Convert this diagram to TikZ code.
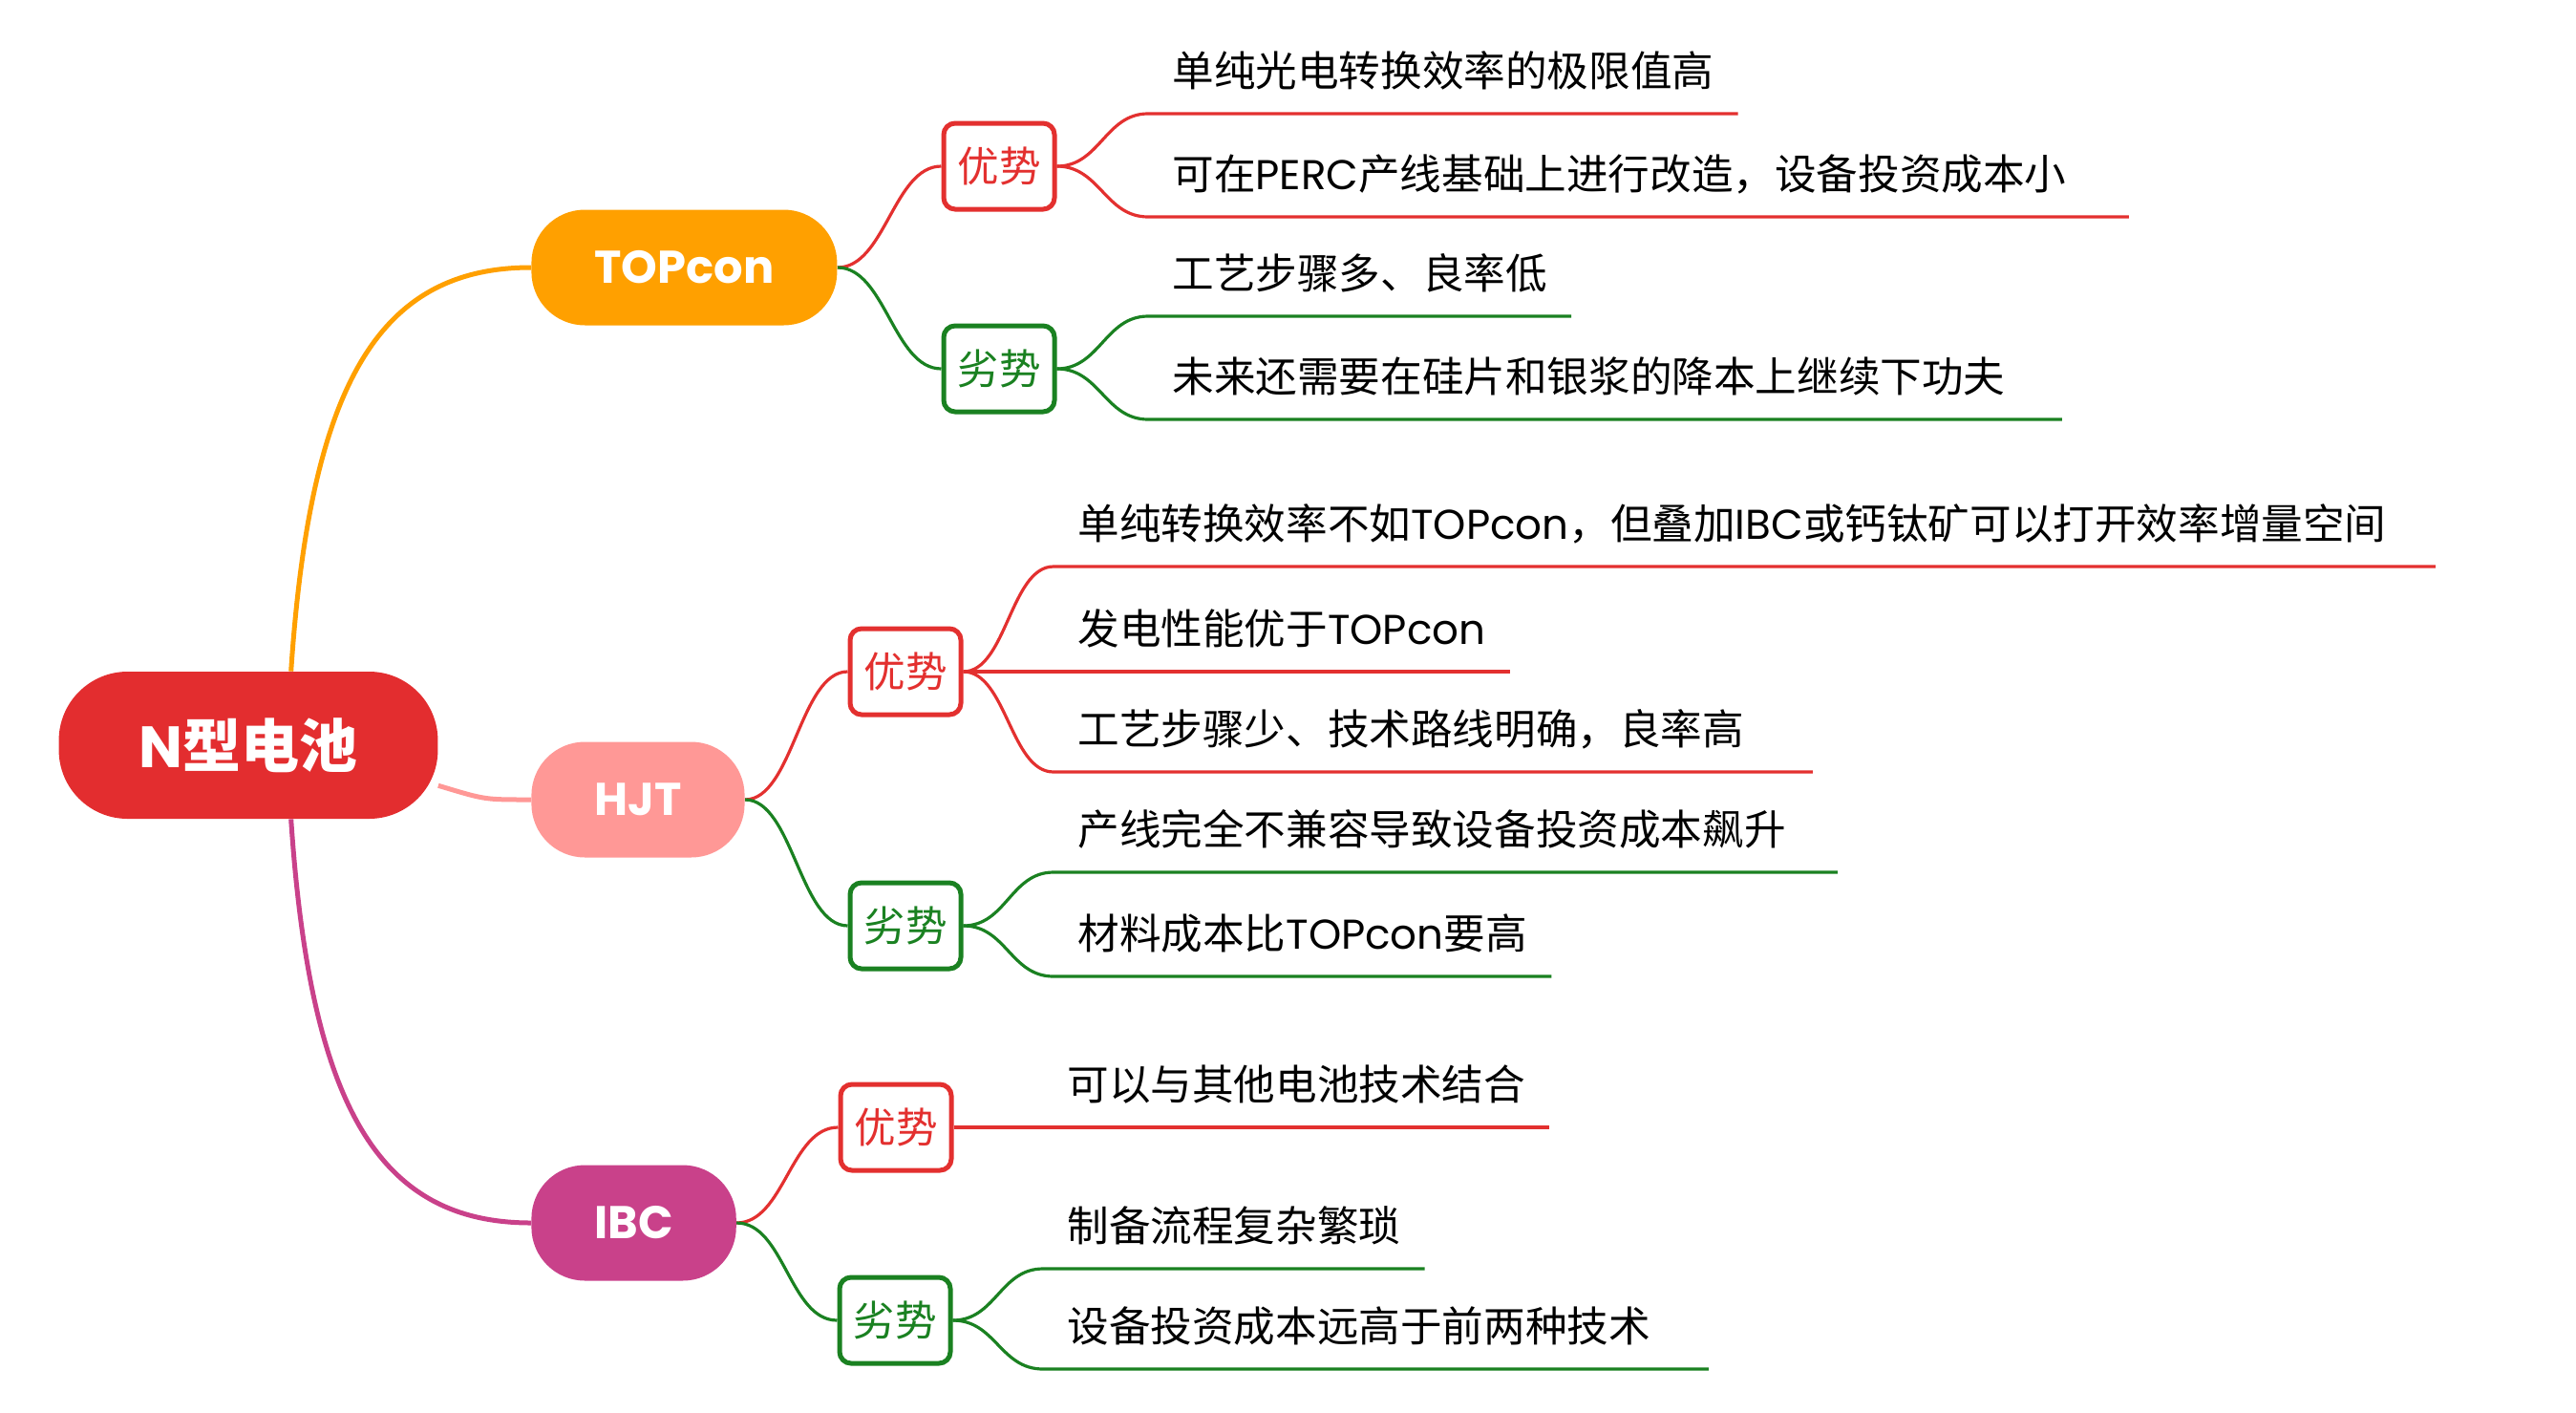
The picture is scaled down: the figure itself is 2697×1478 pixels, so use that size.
\documentclass[tikz,border=0pt]{standalone}
\usepackage{fontspec}
\newfontfamily\cjk{Noto Sans CJK SC}
\newfontfamily\lat{Poppins}
\usetikzlibrary{backgrounds}
\definecolor{rootred}{HTML}{E32D2F}
\definecolor{topconorange}{HTML}{FFA000}
\definecolor{hjtpink}{HTML}{FF9896}
\definecolor{ibcmagenta}{HTML}{C9418A}
\definecolor{prored}{HTML}{E3302F}
\definecolor{congreen}{HTML}{1A8121}
\begin{document}
\begin{tikzpicture}[x=0.5pt,y=-0.5pt,
	root/.style={fill=rootred,text=white,rounded corners=36pt,inner xsep=42pt,minimum height=77pt,font=\cjk\bfseries\fontsize{30.5}{36}\selectfont},
	topic/.style={anchor=west,text=white,rounded corners=28pt,inner xsep=33pt,minimum height=60.5pt,font=\lat\bfseries\fontsize{24}{30}\selectfont},
	procon/.style={draw,fill=white,line width=2.5pt,rounded corners=6pt,minimum width=58pt,minimum height=45pt,inner sep=0pt,font=\cjk\fontsize{21.8}{26}\selectfont},
	good/.style={procon,draw=prored,text=prored},
	bad/.style={procon,draw=congreen,text=congreen},
	leaf/.style={anchor=south west,inner xsep=12.5pt,inner ysep=14pt,text depth=0pt,font=\cjk\fontsize{21.8}{26}\selectfont},
	wide/.style={text width=#1,align=left},
	trunk/.style={line width=2.5pt},
	twig/.style={line width=1.6pt}]
	\useasboundingbox (0,0) rectangle (2697,1478);
	\node[root] (n) at (260,780) {{\lat N}型电池};
	\node[topic,fill=topconorange] (topcon) at (556,280) {TOPcon};
	\node[topic,fill=hjtpink] (hjt) at (556,837) {HJT};
	\node[topic,fill=ibcmagenta] (ibc) at (556,1280) {IBC};
	\node[good] (tpro) at (1046,174) {优势};
	\node[bad] (tcon) at (1046,386) {劣势};
	\node[good] (hpro) at (948,703) {优势};
	\node[bad] (hcon) at (948,969) {劣势};
	\node[good] (ipro) at (938,1180) {优势};
	\node[bad] (icon) at (937,1382) {劣势};
	\node[leaf] (t1) at (1202,119) {单纯光电转换效率的极限值高};
	\node[leaf,wide=488pt] (t2) at (1202,227) {可在{\lat PERC}产线基础上进行改造，设备投资成本小};
	\node[leaf] (t3) at (1202,331) {工艺步骤多、良率低};
	\node[leaf,wide=453pt] (t4) at (1202,439) {未来还需要在硅片和银浆的降本上继续下功夫};
	\node[leaf,wide=698pt] (h1) at (1103,593) {单纯转换效率不如{\lat TOPcon}，但叠加{\lat IBC}或钙钛矿可以打开效率增量空间};
	\node[leaf] (h2) at (1103,703) {发电性能优于{\lat TOPcon}};
	\node[leaf,wide=372pt] (h3) at (1103,808) {工艺步骤少、技术路线明确，良率高};
	\node[leaf,wide=385pt] (h4) at (1103,913) {产线完全不兼容导致设备投资成本飙升};
	\node[leaf] (h5) at (1103,1022) {材料成本比{\lat TOPcon}要高};
	\node[leaf] (i1) at (1092,1180) {可以与其他电池技术结合};
	\node[leaf] (i2) at (1092,1328) {制备流程复杂繁琐};
	\node[leaf,wide=323pt] (i3) at (1092,1433) {设备投资成本远高于前两种技术};
	\begin{scope}[on background layer]
		\draw[trunk,topconorange] (n.60) .. controls +(20,-300) and +(-160,0) .. (topcon.west);
		\draw[trunk,hjtpink] (n.-12) .. controls +(50,15) and +(-50,0) .. (hjt.west);
		\draw[trunk,ibcmagenta] (n.-60) .. controls +(20,300) and +(-160,0) .. (ibc.west);
		\draw[twig,prored] (topcon.east) .. controls +(50,0) and +(-50,0) .. (tpro.west);
		\draw[twig,congreen] (topcon.east) .. controls +(50,0) and +(-50,0) .. (tcon.west);
		\draw[twig,prored] (hjt.east) .. controls +(50,0) and +(-50,0) .. (hpro.west);
		\draw[twig,congreen] (hjt.east) .. controls +(50,0) and +(-50,0) .. (hcon.west);
		\draw[twig,prored] (ibc.east) .. controls +(50,0) and +(-50,0) .. (ipro.west);
		\draw[twig,congreen] (ibc.east) .. controls +(50,0) and +(-50,0) .. (icon.west);
		\draw[twig,prored] (tpro.east) .. controls +(45,0) and +(-45,0) .. (t1.south west) -- (t1.south east);
		\draw[twig,prored] (tpro.east) .. controls +(45,0) and +(-45,0) .. (t2.south west) -- (t2.south east);
		\draw[twig,congreen] (tcon.east) .. controls +(45,0) and +(-45,0) .. (t3.south west) -- (t3.south east);
		\draw[twig,congreen] (tcon.east) .. controls +(45,0) and +(-45,0) .. (t4.south west) -- (t4.south east);
		\draw[twig,prored] (hpro.east) .. controls +(45,0) and +(-45,0) .. (h1.south west) -- (h1.south east);
		\draw[twig,prored] (hpro.east) -- (h2.south west) -- (h2.south east);
		\draw[twig,prored] (hpro.east) .. controls +(45,0) and +(-45,0) .. (h3.south west) -- (h3.south east);
		\draw[twig,congreen] (hcon.east) .. controls +(45,0) and +(-45,0) .. (h4.south west) -- (h4.south east);
		\draw[twig,congreen] (hcon.east) .. controls +(45,0) and +(-45,0) .. (h5.south west) -- (h5.south east);
		\draw[twig,prored] (ipro.east) -- (i1.south west) -- (i1.south east);
		\draw[twig,congreen] (icon.east) .. controls +(45,0) and +(-45,0) .. (i2.south west) -- (i2.south east);
		\draw[twig,congreen] (icon.east) .. controls +(45,0) and +(-45,0) .. (i3.south west) -- (i3.south east);
	\end{scope}
\end{tikzpicture}
\end{document}
